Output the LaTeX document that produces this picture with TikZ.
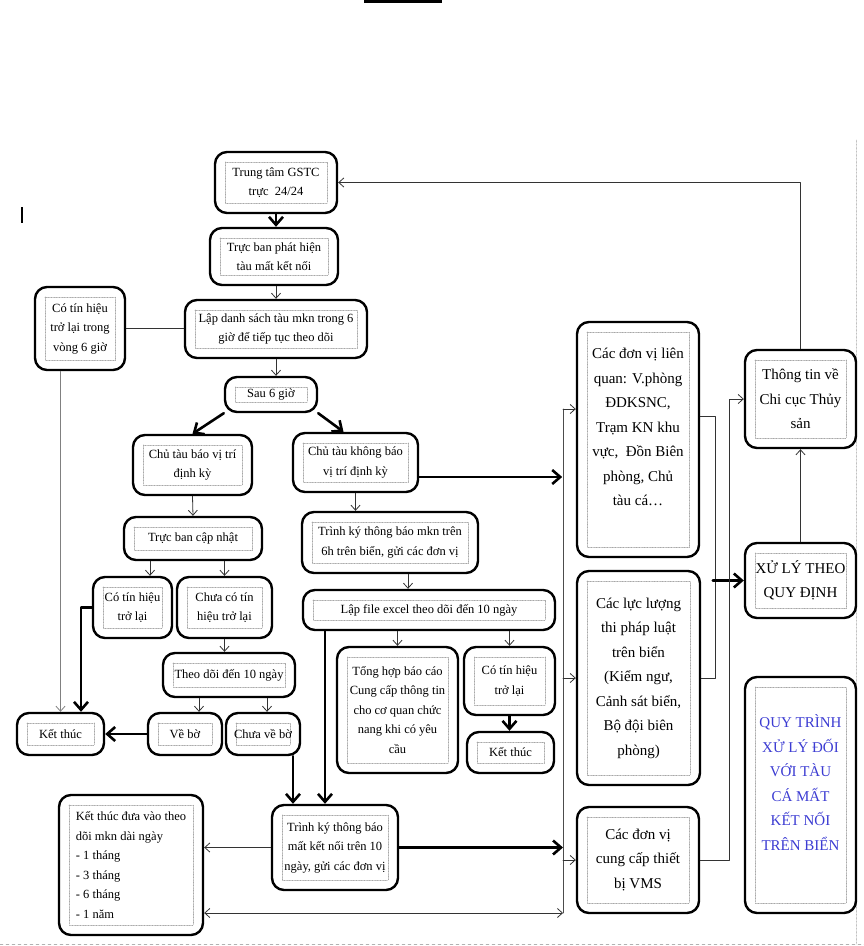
\documentclass[tikz,border=0pt]{standalone}
\usepackage{fontspec}
\setmainfont{Liberation Serif}
\usetikzlibrary{arrows.meta,calc}
\definecolor{quyblue}{RGB}{60,60,210}

\begin{document}
\begin{tikzpicture}[x=1pt, y=-1pt, line join=round, line cap=round, >={Straight Barb[length=5pt,width=9pt]},
	box/.style={draw, line width=2.4pt, rounded corners=12pt, align=center, inner sep=0pt,
		font=\fontsize{12.5}{19.5}\selectfont,
		path picture={\draw[gray!70, densely dotted, line width=.6pt, sharp corners]
			([shift={(10pt,-10pt)}]path picture bounding box.north west) rectangle
			([shift={(-10pt,10pt)}]path picture bounding box.south east);}},
	bigbox/.style={box, font=\fontsize{15}{24.5}\selectfont},
	arr/.style={->, black!80, line width=.8pt},
	tarr/.style={-{Straight Barb[length=8pt,width=14pt]}, line width=2.6pt}]
	\useasboundingbox (0,0) rectangle (864,946);
	% page marks
	\fill (364,0) rectangle (442,3);
	\fill (21,207) rectangle (23,223);
	\draw[gray!60, dashed] (0,944) -- (864,944);
	\draw[gray!60, densely dotted] (856,140) -- (856,944);
	% left and middle column
	\node[box, minimum width=122pt, minimum height=61pt] (gstc) at (276,182.5) {Trung tâm GSTC\\trực \ 24/24};
	\node[box, minimum width=128pt, minimum height=57pt] (phathien) at (274,256.5) {Trực ban phát hiện\\tàu mất kết nối};
	\node[box, minimum width=182pt, minimum height=58pt] (lapds) at (276,329) {Lập danh sách tàu mkn trong 6\\giờ để tiếp tục theo dõi};
	\node[box, minimum width=90pt, minimum height=83pt] (tinhieu6) at (80,328.5) {Có tín hiệu\\trở lại trong\\vòng 6 giờ};
	\node[box, minimum width=92pt, minimum height=35pt] (sau6) at (271,394.5) {Sau 6 giờ};
	\node[box, minimum width=119pt, minimum height=60pt] (baovt) at (192.5,465) {Chủ tàu báo vị trí\\định kỳ};
	\node[box, minimum width=125pt, minimum height=59pt] (khongbao) at (355.5,462.5) {Chủ tàu không báo\\vị trí định kỳ};
	\node[box, minimum width=138pt, minimum height=43pt] (capnhat) at (193,538.5) {Trực ban cập nhật};
	\node[box, minimum width=79pt, minimum height=61pt] (tinhieuL) at (132.5,607.5) {Có tín hiệu\\trở lại};
	\node[box, minimum width=95pt, minimum height=61pt] (chuaco) at (224.5,607.5) {Chưa có tín\\hiệu trở lại};
	\node[box, minimum width=176pt, minimum height=61pt] (trinhky6) at (390,542.5) {Trình ký thông báo mkn trên\\6h trên biển, gửi các đơn vị};
	\node[box, minimum width=252pt, minimum height=40pt] (excel) at (429,610) {Lập file excel theo dõi đến 10 ngày};
	\node[box, minimum width=132pt, minimum height=44pt] (theodoi) at (229,675) {Theo dõi đến 10 ngày};
	\node[box, minimum width=87pt, minimum height=42pt] (ketthucL) at (60.5,734) {Kết thúc};
	\node[box, minimum width=74pt, minimum height=42pt] (vebo) at (185,734) {Về bờ};
	\node[box, minimum width=74pt, minimum height=42pt] (chuavebo) at (263,734) {Chưa về bờ};
	\node[box, minimum width=121pt, minimum height=126pt] (tonghop) at (397.5,710) {Tổng hợp báo cáo\\Cung cấp thông tin\\cho cơ quan chức\\nang khi có yêu\\cầu};
	\node[box, minimum width=91pt, minimum height=68pt] (tinhieuR) at (509.5,681) {Có tín hiệu\\trở lại};
	\node[box, minimum width=87pt, minimum height=41pt] (ketthucR) at (510.5,752.5) {Kết thúc};
	\node[box, align=left, minimum width=144pt, minimum height=140pt] (ketthucdai) at (131,865) {Kết thúc đưa vào theo\\dõi mkn dài ngày\\- 1 tháng\\- 3 tháng\\- 6 tháng\\- 1 năm};
	\node[box, minimum width=126pt, minimum height=85pt] (trinhky10) at (335,847.5) {Trình ký thông báo\\mất kết nối trên 10\\ngày, gửi các đơn vị};
	% right column
	\node[bigbox, minimum width=122pt, minimum height=235pt] (donvi) at (638,439.5) {Các đơn vị liên\\quan: V.phòng\\ĐDKSNC,\\Trạm KN khu\\vực, \ Đồn Biên\\phòng, Chủ\\tàu cá…\\ \mbox{}};
	\node[bigbox, minimum width=123pt, minimum height=214pt] (lucluong) at (638.5,678) {Các lực lượng\\thi pháp luật\\trên biển\\(Kiểm ngư,\\Cảnh sát biển,\\Bộ đội biên\\phòng)};
	\node[bigbox, minimum width=122pt, minimum height=106pt] (vms) at (638,860) {Các đơn vị\\cung cấp thiết\\bị VMS};
	\node[bigbox, minimum width=111pt, minimum height=98pt] (thongtin) at (800.5,399) {Thông tin về\\Chi cục Thủy\\sản};
	\node[bigbox, minimum width=111pt, minimum height=75pt] (xuly) at (800.5,580.5) {XỬ LÝ THEO\\QUY ĐỊNH};
	\node[bigbox, text=quyblue, minimum width=111pt, minimum height=236pt] (quytrinh) at (800.5,795) {QUY TRÌNH\\XỬ LÝ ĐỐI\\VỚI TÀU\\CÁ MẤT\\KẾT NỐI\\TRÊN BIỂN\\ \mbox{}};
	% connectors
	\draw[tarr] (gstc.south) -- (gstc.south |- phathien.north);
	\draw[arr] (lapds.north |- phathien.south) -- (lapds.north);
	\draw[arr] (lapds.south) -- (lapds.south |- sau6.north);
	\draw[black!80, line width=.8pt] (tinhieu6.east) -- (tinhieu6.east -| lapds.west);
	\draw[arr, gray] (tinhieu6.south -| ketthucL) -- (ketthucL.north);
	\draw[tarr] (sau6.south west) -- (baovt.north);
	\draw[tarr] (sau6.south east) -- ($(khongbao.north)+(-12,0)$);
	\draw[arr] (baovt.south) -- (capnhat.north);
	\draw[arr] (khongbao.south) -- (khongbao.south |- trinhky6.north);
	\draw[arr] ($(capnhat.south)+(-43,0)$) -- ($(tinhieuL.north)+(17.5,0)$);
	\draw[arr] (capnhat.south -| chuaco) -- (chuaco.north);
	\draw[tarr] (tinhieuL.west) -| ($(ketthucL.north)+(20.5,0)$);
	\draw[arr] (chuaco.south) -- (chuaco.south |- theodoi.north);
	\draw[arr] ($(theodoi.south)+(-30,0)$) -- ($(vebo.north)+(14,0)$);
	\draw[arr] ($(theodoi.south)+(38,0)$) -- ($(chuavebo.north)+(4,0)$);
	\draw[tarr] (vebo.west) -- (ketthucL.east);
	\draw[tarr] ($(chuavebo.south)+(30,0)$) -- ($(trinhky10.north)+(-42,0)$);
	\draw[arr] ($(trinhky6.south)+(18,0)$) -- ($(excel.north)+(-21,0)$);
	\draw[tarr] ($(excel.south)+(-104,0)$) -- ($(trinhky10.north)+(-10,0)$);
	\foreach \n in {tonghop,tinhieuR} \draw[arr] (excel.south -| \n) -- (\n.north);
	\draw[tarr] (tinhieuR.south) -- (tinhieuR.south |- ketthucR.north);
	\draw[arr] (trinhky10.west) -- (trinhky10.west -| ketthucdai.east);
	% bus to the units on the right
	\coordinate (bt) at (563,409); \coordinate (bb) at (563,913);
	\draw[black!70, line width=.8pt] (bt) -- (bb);
	\draw[arr] (bt) -- (bt -| donvi.west);
	\foreach \n in {lucluong,vms} \draw[arr] (bt |- \n.west) -- (\n.west);
	\draw[arr, <->] (bb -| ketthucdai.east) -- (bb);
	\draw[tarr] ($(khongbao.east)+(0,14.5)$) -- ++(143,0);
	\draw[tarr] (trinhky10.east) -- (trinhky10.east -| bt);
	\draw[black!80, line width=.8pt] ($(donvi.east)+(0,-23.5)$) -- ++(15,0) |- (lucluong.east);
	\draw[tarr] ($(xuly.west)+(-31,0)$) -- (xuly.west);
	\draw[arr] (vms.east) -- ++(29,0) |- (thongtin.west);
	\draw[arr] (xuly.north) -- (thongtin.south);
	\draw[arr] (thongtin.north) |- (gstc.east);
\end{tikzpicture}
\end{document}
